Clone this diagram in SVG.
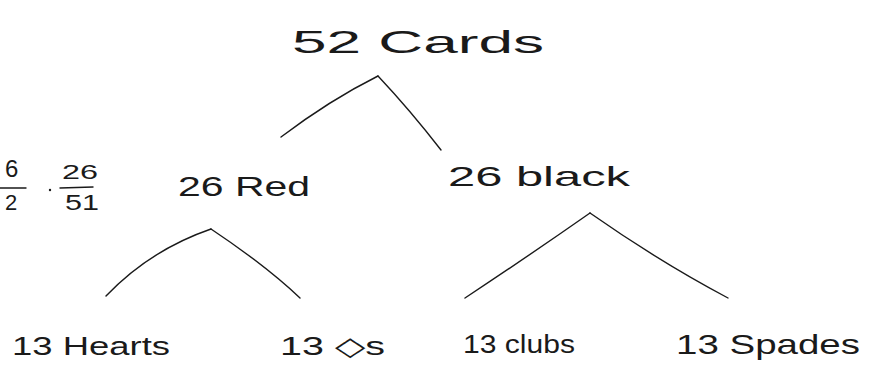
<svg xmlns="http://www.w3.org/2000/svg" width="869" height="367" viewBox="0 0 869 367">
<style>
.t{font-family:"Liberation Sans","DejaVu Sans",sans-serif;fill:#1a1a1a}
.c{fill:none;stroke:#1a1a1a;stroke-width:1.4;stroke-linecap:round}
</style>
<rect width="869" height="367" fill="#ffffff"/>
<g id="n-cards"><text class="t" x="292" y="53" font-size="32" textLength="252" lengthAdjust="spacingAndGlyphs">52  Cards</text></g>
<g id="n-red"><text class="t" x="178" y="196" font-size="28" textLength="132" lengthAdjust="spacingAndGlyphs">26 Red</text></g>
<g id="n-black"><text class="t" x="448" y="186" font-size="28" textLength="182" lengthAdjust="spacingAndGlyphs">26 black</text></g>
<g id="n-hearts"><text class="t" x="12" y="355" font-size="26" textLength="158" lengthAdjust="spacingAndGlyphs">13 Hearts</text></g>
<g id="n-diamonds"><text class="t" x="280" y="355" font-size="26" textLength="105" lengthAdjust="spacingAndGlyphs">13 ◇s</text></g>
<g id="n-clubs"><text class="t" x="463" y="353" font-size="26" textLength="112" lengthAdjust="spacingAndGlyphs">13 clubs</text></g>
<g id="n-spades"><text class="t" x="676" y="354" font-size="28" textLength="184" lengthAdjust="spacingAndGlyphs">13 Spades</text></g>
<g id="fraction">
<text class="t" x="5" y="177" font-size="24">6</text>
<line class="c" x1="0" y1="188" x2="26" y2="188"/>
<text class="t" x="5" y="210" font-size="22">2</text>
<circle cx="50" cy="190" r="1.2" fill="#1a1a1a"/>
<text class="t" x="62" y="179" font-size="20" textLength="36" lengthAdjust="spacingAndGlyphs">26</text>
<line class="c" x1="60" y1="188" x2="93" y2="187"/>
<text class="t" x="65" y="210" font-size="22" textLength="34" lengthAdjust="spacingAndGlyphs">51</text>
</g>
<g id="connectors">
<path class="c" d="M281 137 Q330 100 378 76"/>
<path class="c" d="M378 76 Q410 110 441 150"/>
<path class="c" d="M106 296 Q150 250 211 229"/>
<path class="c" d="M211 229 Q265 265 300 298"/>
<path class="c" d="M465 298 Q530 255 590 213"/>
<path class="c" d="M590 213 Q660 262 728 298"/>
</g>
</svg>
